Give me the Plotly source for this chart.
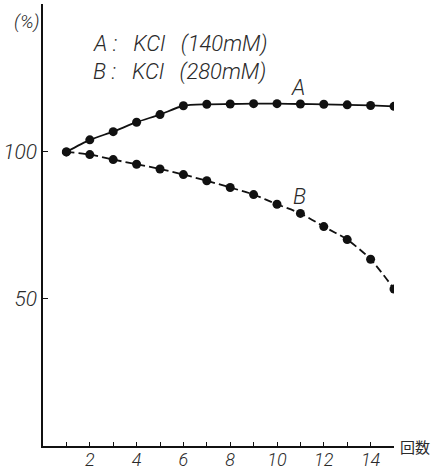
import plotly.graph_objects as go

# Measurement number (回数) and relative response (%)
counts = list(range(1, 16))
series_a = [100, 104.1, 106.9, 110.1, 112.7, 115.7, 116.2, 116.3, 116.4, 116.4, 116.3, 116.2, 116.0, 115.8, 115.5]
series_b = [100, 99.1, 97.4, 95.8, 94.2, 92.3, 90.2, 87.9, 85.5, 82.2, 79.1, 74.6, 70.2, 63.5, 53.4]

x_ticks = list(range(1, 16))
x_tick_text = [str(v) if v % 2 == 0 else "" for v in x_ticks]
y_ticks = [50, 100]
y_tick_text = ["50", "100"]

NB = "\u00a0"
legend_lines = [f"A{NB}:{NB}{NB}{NB}KCl{NB}{NB}{NB}(140mM)",
                f"B{NB}:{NB}{NB}{NB}KCl{NB}{NB}{NB}(280mM)"]

ink = "#111111"
text_ink = "#2a2a2a"
thin_italic = "Roboto, Liberation Sans, sans-serif"
label_font = dict(family=thin_italic, size=22, color=text_ink, style="italic", weight=300)

fig = go.Figure()
fig.add_trace(go.Scatter(
    x=counts, y=series_a, mode="lines+markers",
    line=dict(color=ink, width=1.8, shape="spline", smoothing=0.7),
    marker=dict(color=ink, size=9),
))
fig.add_trace(go.Scatter(
    x=counts, y=series_b, mode="lines+markers",
    line=dict(color=ink, width=1.8, shape="spline", smoothing=0.7, dash="8px,4px"),
    marker=dict(color=ink, size=9),
))

fig.update_layout(
    width=436, height=471,
    margin=dict(l=43, r=42, t=4, b=25),
    paper_bgcolor="white", plot_bgcolor="white",
    showlegend=False,
    font=label_font,
)
fig.update_xaxes(
    range=[0, 15], showgrid=False, zeroline=False, automargin=False,
    showline=True, linecolor=ink, linewidth=1.5,
    tickmode="array", tickvals=x_ticks, ticktext=x_tick_text,
    ticks="inside", ticklen=4, tickcolor=ink, tickwidth=1,
    ticklabelstandoff=-3,
    tickfont=dict(family=thin_italic, size=18, color=text_ink, style="italic", weight=300),
)
fig.update_yaxes(
    range=[0, 150.3], showgrid=False, zeroline=False, automargin=False,
    showline=True, linecolor=ink, linewidth=1.5,
    tickmode="array", tickvals=y_ticks, ticktext=y_tick_text,
    ticks="inside", ticklen=5, tickcolor=ink, tickwidth=1,
    tickfont=dict(family=thin_italic, size=21, color=text_ink, style="italic", weight=300),
)

annotations = [
    dict(x=2.05, y=136.6, text=legend_lines[0], xanchor="left", yanchor="middle", showarrow=False),
    dict(x=2.05, y=127.2, text=legend_lines[1], xanchor="left", yanchor="middle", showarrow=False),
    dict(x=10.9, y=121.8, text="A", xanchor="center", yanchor="middle", showarrow=False),
    dict(x=10.97, y=85.0, text="B", xanchor="center", yanchor="middle", showarrow=False),
    dict(x=0, y=1, xref="x domain", yref="y domain", text="(%)", xanchor="right",
         yanchor="top", xshift=-1, yshift=-4, showarrow=False,
         font=dict(family=thin_italic, size=19, color=text_ink, style="italic", weight=300)),
    dict(x=1, y=0, xref="x domain", yref="y domain", text="回数", xanchor="left",
         yanchor="middle", xshift=4, showarrow=False,
         font=dict(family="Noto Sans CJK JP", size=15, color=text_ink,
                   style="normal", weight=400)),
]
fig.update_layout(annotations=annotations)

fig.write_html("out.html")
